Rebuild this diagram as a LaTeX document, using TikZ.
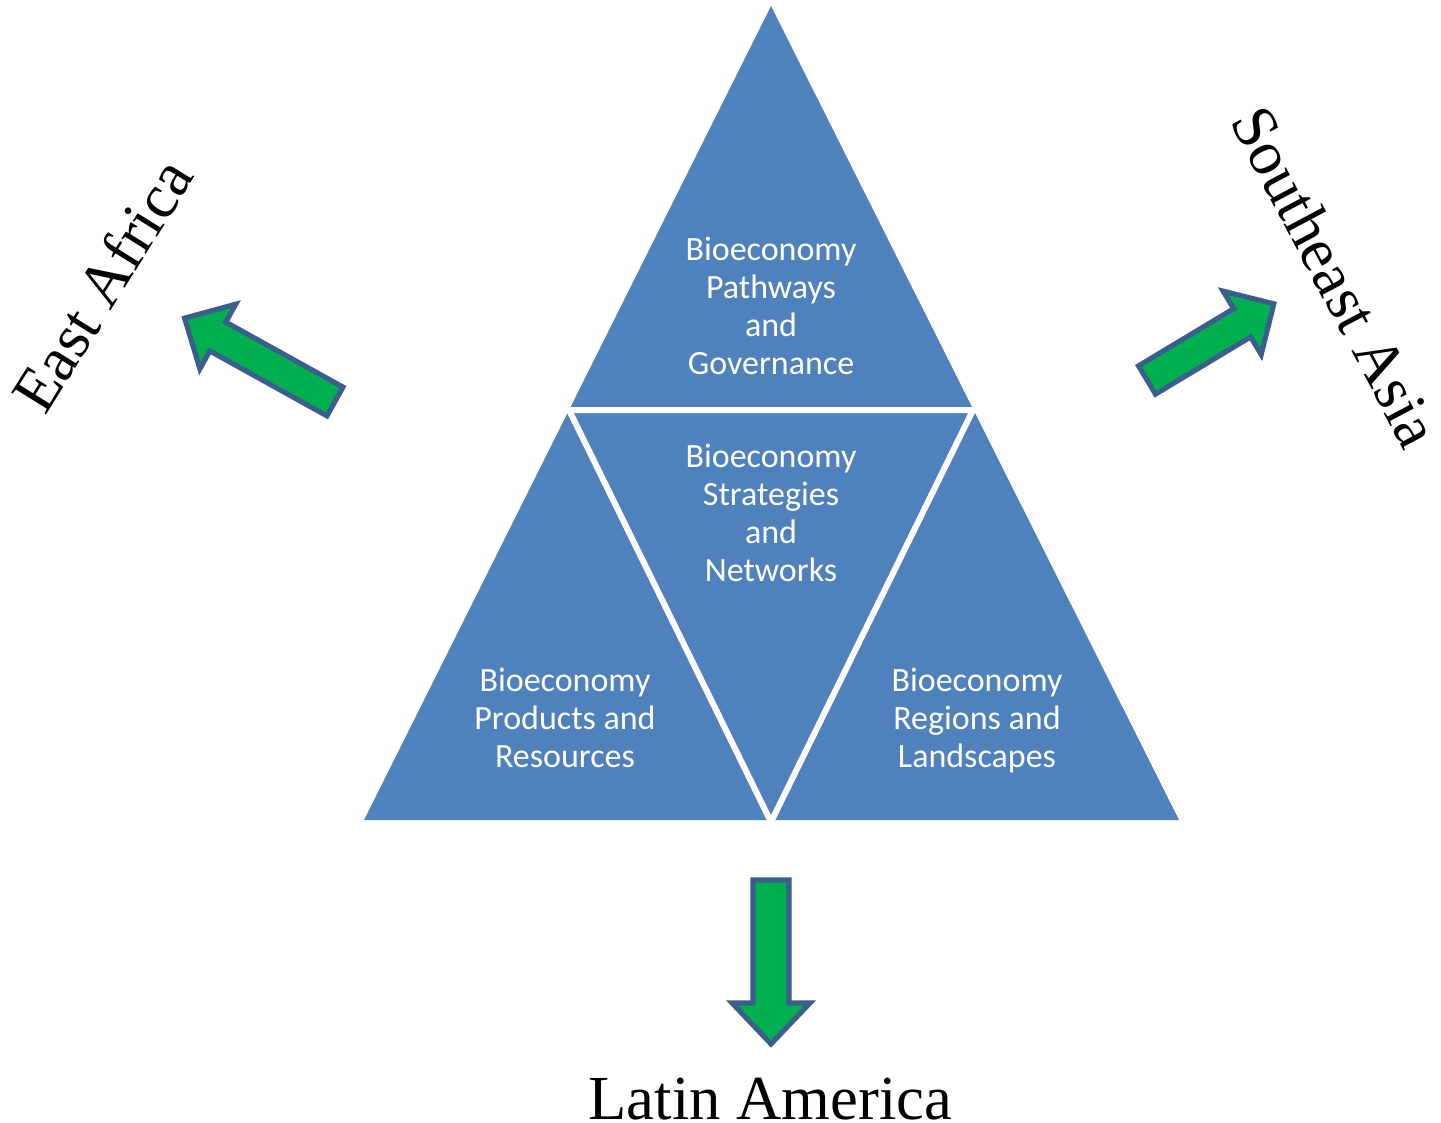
\documentclass[tikz,border=0pt]{standalone}
\usepackage{fontspec}
\setmainfont{Liberation Serif}
\newfontfamily\calib{Carlito}
\definecolor{triblue}{HTML}{4F81BD}
\definecolor{arrgreen}{HTML}{00B050}
\definecolor{arredge}{HTML}{3C5E8C}
\newcommand{\greenarrow}[4]{%
  \draw[arrowshape] (0,-#2) -- ({#1-#4},-#2) -- ({#1-#4},-#3) -- (#1,0) -- ({#1-#4},#3) -- ({#1-#4},#2) -- (0,#2) -- cycle;}
\begin{document}
\begin{tikzpicture}[x=0.75pt,y=-0.75pt,
  arrowshape/.style={fill=arrgreen,draw=arredge,line width=3.8pt,line join=miter},
  trilabel/.style={text=white,font=\calib\fontsize{25.5}{28.5}\selectfont,align=center,inner sep=0pt},
  region/.style={font=\fontsize{47}{50}\selectfont,inner sep=0pt}]
\useasboundingbox (0,0) rectangle (1441,1123);
% big triangle
\fill[triblue] (771,6) -- (1179,820) -- (364,820) -- cycle;
% white separators
\coordinate (ml) at (569,410);
\coordinate (mr) at (973,410);
\coordinate (mb) at (771,822);
\draw[white,line width=4.5pt] (ml) -- (mr) -- (mb) -- cycle;
% labels
\node[trilabel] (top) at (771,306) {Bioeconomy\\Pathways\\and\\Governance};
\node[trilabel] (mid) at (771,513) {Bioeconomy\\Strategies\\and\\Networks};
\node[trilabel] (left) at (565,718) {Bioeconomy\\Products and\\Resources};
\node[trilabel] (right) at (977,721) {Bioeconomy\\Regions and\\Landscapes};
% arrows
\begin{scope}[shift={(335,401.5)},rotate=151]
  \greenarrow{172}{16.5}{37}{38}
\end{scope}
\begin{scope}[shift={(1147,380)},rotate=31]
  \greenarrow{148}{16.5}{37}{37}
\end{scope}
\begin{scope}[shift={(771,880)},rotate=-90]
  \greenarrow{164}{18}{39}{41}
\end{scope}
% region names
\node[region,anchor=base] (la) at (770.5,1119) {Latin America};
\node[region,rotate=58] (ea) at (102,285) {East Africa};
\node[region,rotate=-62] (sa) at (1336,277) {Southeast Asia};
\end{tikzpicture}
\end{document}
